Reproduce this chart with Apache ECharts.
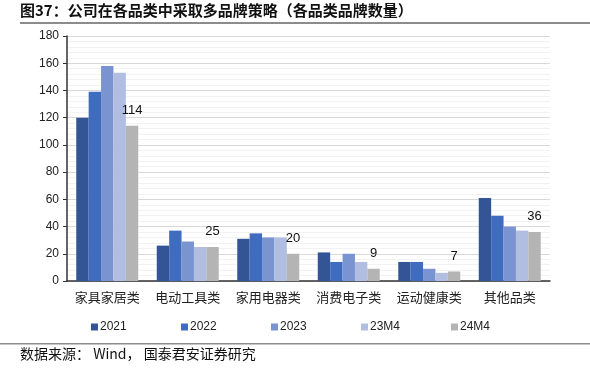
<!DOCTYPE html>
<html><head><meta charset="utf-8">
<script src="https://cdn.jsdelivr.net/npm/echarts@6/dist/echarts.min.js"></script>
<style>html,body{margin:0;padding:0;background:#fff}#c{width:590px;height:370px}</style>
</head><body><div id="c"></div>
<script>
var categories = ['家具家居类','电动工具类','家用电器类','消费电子类','运动健康类','其他品类'];
var seriesNames = ['2021','2022','2023','23M4','24M4'];
var v2021 = [120, 26, 31, 21, 14, 61];
var v2022 = [139, 37, 35, 14, 14, 48];
var v2023 = [158, 29, 32, 20, 9, 40];
var v23M4 = [153, 25, 32, 14, 6, 37];
var v24M4 = [114, 25, 20, 9, 7, 36];
var colors = ['#335596','#3F6CBF','#7A93D1','#B2BDE2','#B4B4B4'];
var yTicks = [0,20,40,60,80,100,120,140,160,180];

var allData = [v2021, v2022, v2023, v23M4, v24M4];
var cjk = '"Noto Sans CJK SC", sans-serif';
var num = '"Liberation Sans", Arial, sans-serif';

var series = seriesNames.map(function(n, i){
  var s = {
    name: n, type: 'bar', data: allData[i], barGap: '0%', barCategoryGap: '23%',
    itemStyle: {color: colors[i]}
  };
  if (i === 4) {
    s.label = {show: true, position: 'top', distance: 9, color: '#111', fontFamily: num, fontSize: 13};
  }
  return s;
});

var legends = seriesNames.map(function(n, i){
  return {
    data: [n], left: 86 + i*90, top: 316, itemWidth: 7, itemHeight: 7, itemGap: 0,
    icon: 'rect', textStyle: {fontFamily: num, fontSize: 12, color: '#222', padding: [0,0,0,-3]},
    selectedMode: false
  };
});

var chart = echarts.init(document.getElementById('c'));
chart.setOption({
  animation: false,
  backgroundColor: '#fff',
  grid: {left: 67, right: 40, top: 36, bottom: 89},
  legend: legends,
  xAxis: {
    type: 'category', data: categories,
    axisLine: {lineStyle: {color: '#333', width: 1.5}},
    axisTick: {show: false},
    axisLabel: {interval: 0, fontFamily: cjk, fontSize: 13, color: '#222', margin: 10}
  },
  yAxis: {
    type: 'value', min: yTicks[0], max: yTicks[yTicks.length-1], interval: 20,
    axisLine: {show: true, lineStyle: {color: '#333', width: 1.5}},
    axisTick: {show: true, length: 4, inside: false, lineStyle: {color: '#333'}},
    axisLabel: {fontFamily: num, fontSize: 12, color: '#222', margin: 8},
    splitLine: {lineStyle: {color: '#D9D9D9', width: 1}},
    minorTick: {show: false, splitNumber: 5},
    minorSplitLine: {show: true, lineStyle: {color: '#F2F2F2', width: 1}}
  },
  series: series,
  graphic: [
    {type: 'text', left: 20, top: 3, style: {text: '图37：公司在各品类中采取多品牌策略（各品类品牌数量）', fontFamily: cjk, fontSize: 15, fontWeight: 'bold', fill: '#111'}},
    {type: 'rect', shape: {x: 20, y: 22, width: 570, height: 2}, style: {fill: '#8C8C8C'}},
    {type: 'rect', shape: {x: 0, y: 343, width: 590, height: 1.5}, style: {fill: '#8C8C8C'}},
    {type: 'text', left: 20, top: 347, style: {text: '数据来源： Wind， 国泰君安证券研究', fontFamily: cjk, fontSize: 14, fill: '#111'}}
  ]
});
</script></body></html>
